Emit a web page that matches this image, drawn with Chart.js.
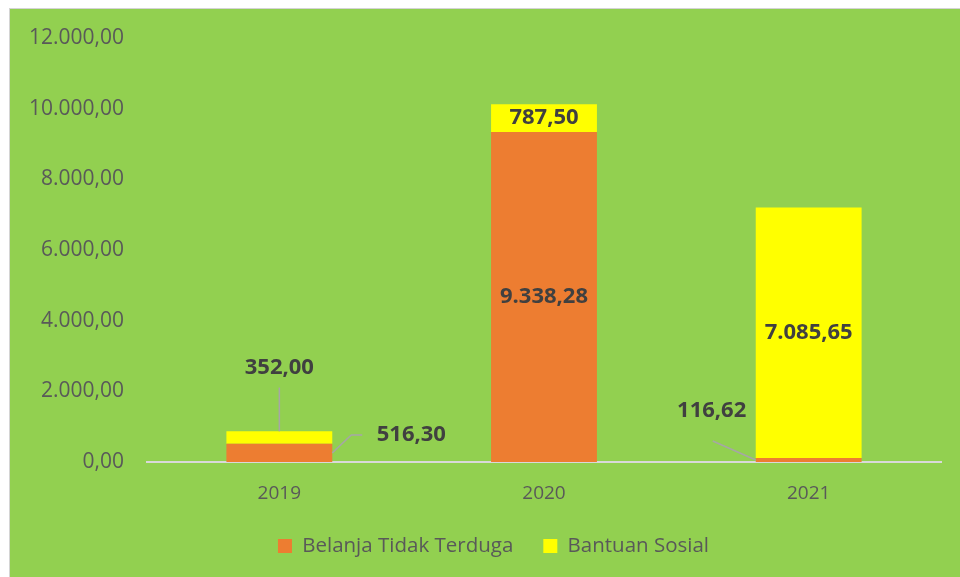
<!DOCTYPE html>
<html>
<head>
<meta charset="utf-8">
<script src="https://cdn.jsdelivr.net/npm/chart.js@4"></script>
<style>
  html,body{margin:0;padding:0;background:#fff;}
  #wrap{position:absolute;left:9px;top:8px;width:950px;height:568px;background:#92D050;
    border-left:1px solid #d4d4d4;border-top:1px solid #d4d4d4;}
</style>
</head>
<body>
<div id="wrap"><canvas id="chart"></canvas></div>
<script>
// DATA
let years=["2019","2020","2021"];
let belanjaTidakTerduga=[516.30,9338.28,116.62];
let bantuanSosial=[352.00,787.50,7085.65];
let yTicks=[0,2000,4000,6000,8000,10000,12000];

// number format like 9.338,28
function fmt(v){
  let parts=v.toFixed(2).split(".");
  parts[0]=parts[0].replace(/\B(?=(\d{3})+(?!\d))/g,".");
  return parts[0]+","+parts[1];
}

// label placement: null = centred in segment, else offsets + leader points
// (relative to bar centre x / segment middle y, w = bar width)
let callouts={
  "0-0":{dx:132,dy:-18,line:w=>[[w/2,0],[w/2+19,-18],[w/2+30,-18]]},
  "1-0":{dx:0,dy:-70,line:(w,h)=>[[0,-h/2],[0,-50]]},
  "0-2":{dx:-97,dy:-49,line:w=>[[-w/2,0],[-w/2-43,-19]]}
};

let labelPlugin={
  id:"labels",
  afterLayout(chart){
    // legend sits a bit right of centre in the original
    chart.legend.left+=18;
    chart.legend.right+=18;
  },
  afterDatasetsDraw(chart){
    let ctx=chart.ctx;
    ctx.save();
    ctx.font="bold 22px 'Open Sans'";
    ctx.fillStyle="#404040";
    ctx.textAlign="center";
    ctx.textBaseline="middle";
    chart.data.datasets.forEach((ds,di)=>{
      chart.getDatasetMeta(di).data.forEach((bar,i)=>{
        let top=Math.min(bar.y,bar.base), bot=Math.max(bar.y,bar.base);
        let cx=bar.x, cy=(top+bot)/2, h=bot-top, w=bar.width;
        let c=callouts[di+"-"+i];
        if(c){
          let pts=c.line(w,h);
          ctx.strokeStyle="#a6a6a6";
          ctx.lineWidth=1.5;
          ctx.beginPath();
          pts.forEach((p,k)=>k?ctx.lineTo(cx+p[0],cy+p[1]):ctx.moveTo(cx+p[0],cy+p[1]));
          ctx.stroke();
          ctx.fillText(fmt(ds.data[i]),cx+c.dx,cy+c.dy);
        }else{
          ctx.fillText(fmt(ds.data[i]),cx,cy);
        }
      });
    });
    ctx.restore();
  }
};

new Chart(document.getElementById("chart"),{
  type:"bar",
  data:{
    labels:years,
    datasets:[
      {label:"Belanja Tidak Terduga",data:belanjaTidakTerduga,backgroundColor:"#ED7D31",
        barPercentage:0.4,categoryPercentage:1},
      {label:"Bantuan Sosial",data:bantuanSosial,backgroundColor:"#FFFF00",
        barPercentage:0.4,categoryPercentage:1}
    ]
  },
  options:{
    responsive:true,
    maintainAspectRatio:false,
    animation:false,
    layout:{padding:{top:29,right:19,bottom:10.75,left:0}},
    plugins:{
      tooltip:{enabled:false},
      legend:{
        position:"bottom",
        labels:{boxWidth:14,boxHeight:14,padding:30,color:"#595959",
          font:{family:"'Open Sans'",size:20.5}}
      }
    },
    scales:{
      x:{
        stacked:true,
        grid:{display:false,drawTicks:false},
        border:{color:"#d9d9d9",width:2},
        ticks:{color:"#595959",padding:20,font:{family:"'Open Sans'",size:19}},
        afterFit(s){s.height=43.75;s.paddingTop=0;s.paddingBottom=0;}
      },
      y:{
        stacked:true,
        min:0,max:12000,
        afterBuildTicks(s){s.ticks=yTicks.map(v=>({value:v}));},
        grid:{display:false,drawTicks:false},
        border:{display:false},
        ticks:{color:"#595959",padding:23,font:{family:"'Open Sans'",size:21},callback:v=>fmt(v)},
        afterFit(s){s.width=137;s.paddingTop=0;s.paddingBottom=0;}
      }
    }
  },
  plugins:[labelPlugin]
});
</script>
</body>
</html>
